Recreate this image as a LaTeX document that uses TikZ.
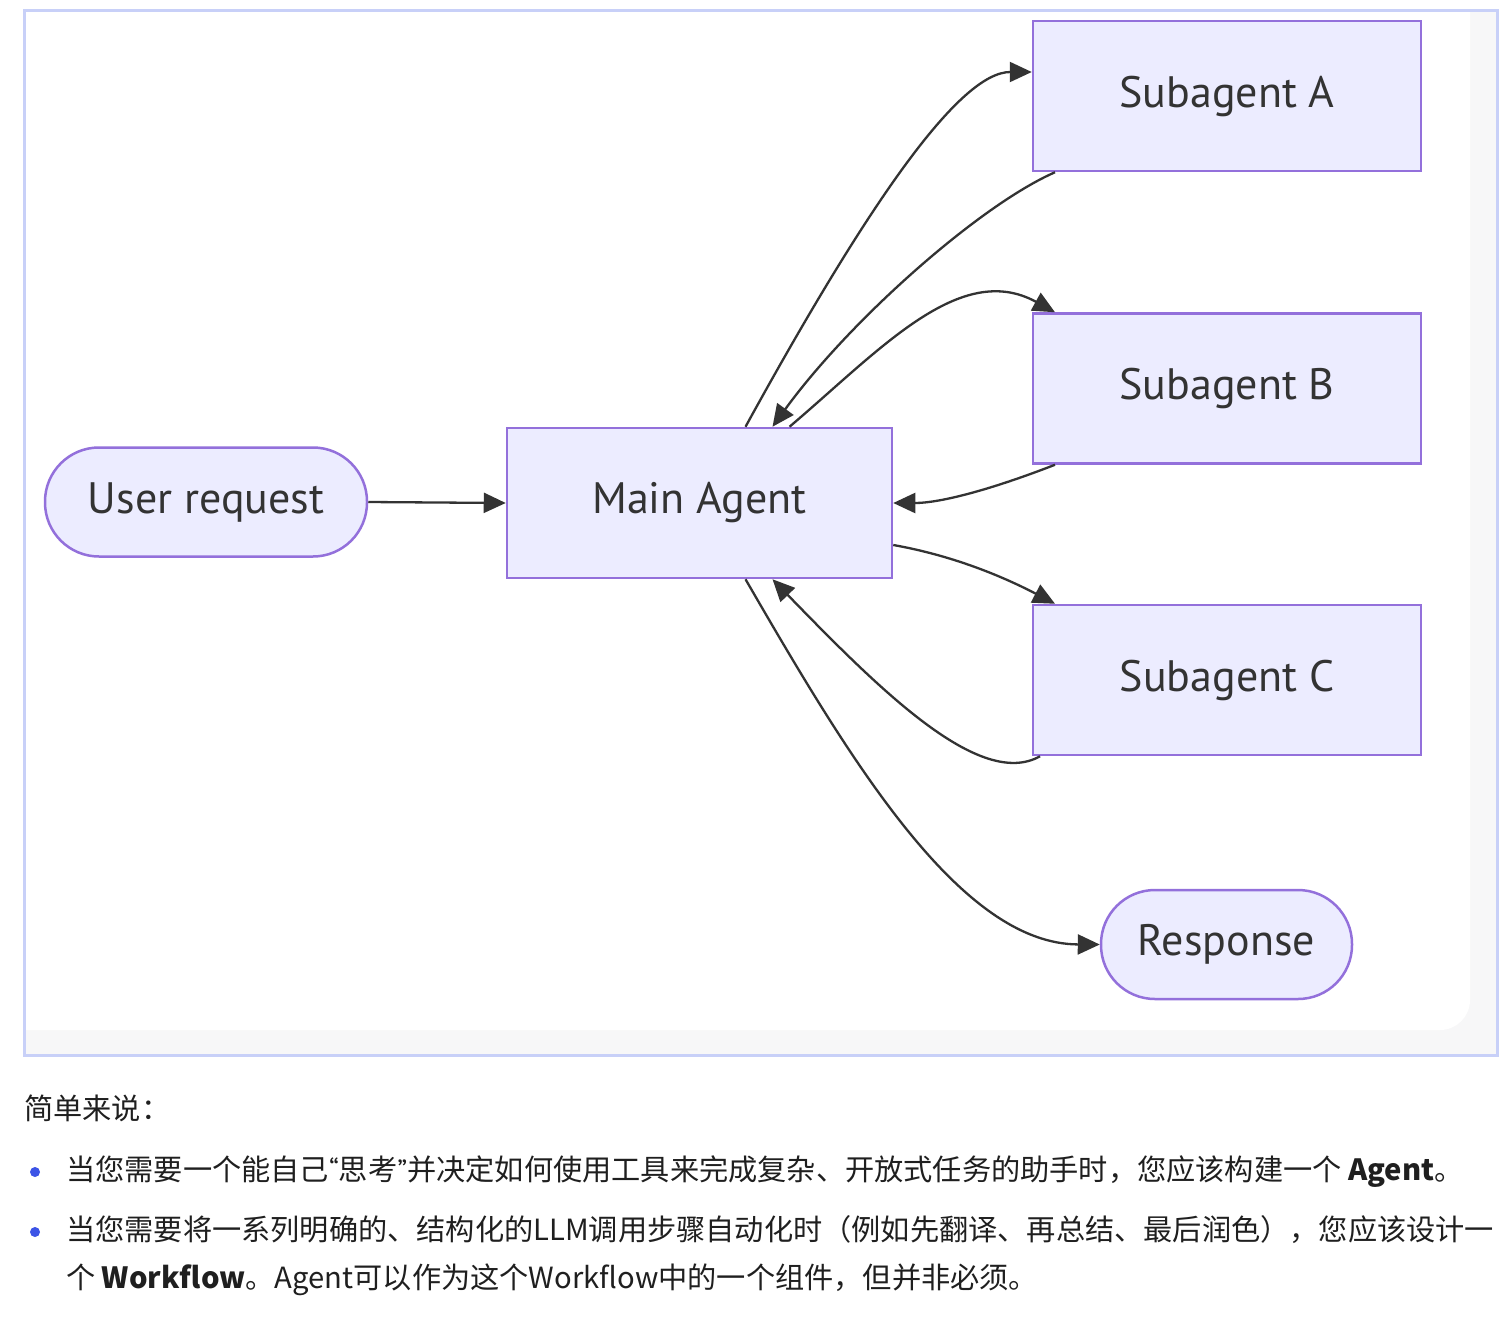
\documentclass[tikz,border=0pt]{standalone}
\usepackage{fontspec}
\setmainfont{PT Sans}
\newfontfamily\cjk{Noto Sans CJK SC}
\usetikzlibrary{arrows.meta, positioning}

\definecolor{nodefill}{HTML}{ECECFF}
\definecolor{nodeline}{HTML}{9370DB}
\definecolor{edgecol}{HTML}{333333}
\definecolor{framecol}{HTML}{C8D0F8}
\definecolor{stripcol}{HTML}{F7F7F8}
\definecolor{bulletcol}{HTML}{3D54E6}
\definecolor{textcol}{HTML}{1F1F1F}

% narrow quotation marks
\newcommand{\nq}[1]{{\rmfamily#1}}

\tikzset{
  agentbox/.style={draw=nodeline, fill=nodefill, line width=2.5pt, minimum width=388pt,
    minimum height=150pt, inner sep=0pt, text=edgecol, font=\fontsize{44}{50}\selectfont},
  pill/.style={agentbox, rounded corners=54pt, minimum height=109pt},
  link/.style={draw=edgecol, line width=2.3pt, -{Triangle[length=22pt,width=20pt]}},
  para/.style={anchor=base west, inner sep=0pt, text=textcol, font=\cjk\fontsize{29.2}{34}\selectfont},
  dot/.style={circle, fill=bulletcol, minimum size=10pt, inner sep=0pt}
}

\begin{document}
\begin{tikzpicture}[x=1pt, y=-1pt]
\useasboundingbox (0,0) rectangle (1512,1320);

% Frame
\fill[stripcol] (24,10) rectangle (1497,1055);
\fill[white] (25,11) -- (1470,11) [rounded corners=30pt] -- (1470,1030) [sharp corners] -- (25,1030) -- cycle;
\draw[framecol, line width=3pt] (24,10) rectangle (1497,1055);

% Nodes
\node[pill, minimum width=322pt] (user) at (206,502) {User request};
\node[agentbox, minimum width=385pt] (main) at (699.5,503) {Main Agent};
\node[agentbox] (subA) at (1227,96) {Subagent A};
\node[agentbox, below=140pt of subA] (subB) {Subagent B};
\node[agentbox, below=139pt of subB] (subC) {Subagent C};
\node[pill, minimum width=251pt] (resp) at (1226.5,944.5) {Response};

% Edges
\draw[link] (user.east) -- (main.west);
\draw[link] ([xshift=46pt]main.north) .. controls (870,200) and (960,72) .. ([yshift=24pt]subA.west);
\draw[link] ([xshift=-172pt]subA.south) .. controls (980,205) and (850,320) .. ([xshift=73pt]main.north);
\draw[link] ([xshift=90pt]main.north) .. controls (880,350) and (960,260) .. ([xshift=-172pt]subB.north);
\draw[link] ([xshift=-172pt]subB.south) .. controls (990,490) and (940,503) .. (main.east);
\draw[link] ([yshift=-42pt]main.east) .. controls (950,555) and (1000,575) .. ([xshift=-172pt]subC.north);
\draw[link] ([xshift=-187pt]subC.south) .. controls (980,790) and (880,690) .. ([xshift=73pt]main.south);
\draw[link] ([xshift=46pt]main.south) .. controls (850,760) and (960,944) .. (resp.west);

% Summary text
\node[para] (summary) at (24,1119) {简单来说：};
\node[dot] (dotA) at (35,1172) {};
\node[para] (lineA) at (66,1180) {当您需要一个能自己\nq{“}思考\nq{”}并决定如何使用工具来完成复杂、开放式任务的助手时，您应该构建一个 \textbf{Agent}。};
\node[dot] (dotB) at (35,1232) {};
\node[para] (lineB) at (66,1240) {当您需要将一系列明确的、结构化的LLM调用步骤自动化时（例如先翻译、再总结、最后润色），您应该设计一};
\node[para] (lineC) at (66,1288) {个 \textbf{Workflow}。Agent可以作为这个Workflow中的一个组件，但并非必须。};
\end{tikzpicture}
\end{document}
